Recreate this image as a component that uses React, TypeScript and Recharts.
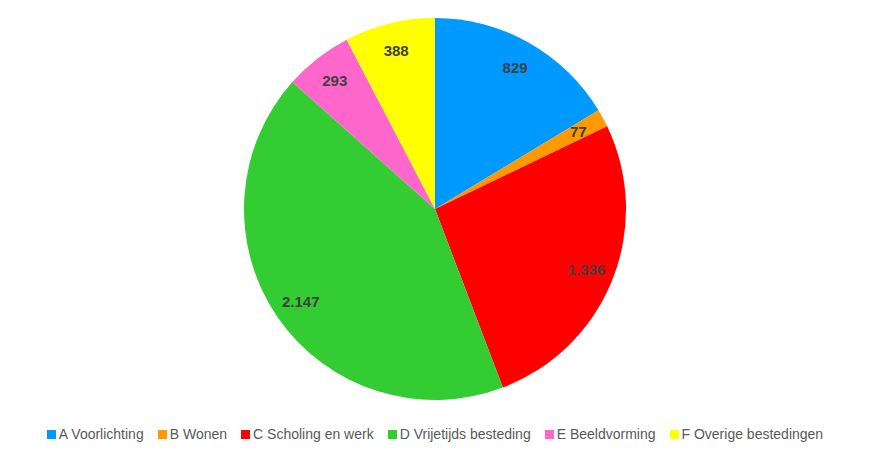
import { PieChart, Pie, Cell, Legend } from "recharts";

const categories = [
  "A Voorlichting",
  "B Wonen",
  "C Scholing en werk",
  "D Vrijetijds besteding",
  "E Beeldvorming",
  "F Overige bestedingen",
];
const amounts = [829, 77, 1336, 2147, 293, 388];
const colors = ["#0099FF", "#FF9900", "#FF0000", "#33CC33", "#FF66CC", "#FFFF00"];

const data = categories.map((name, i) => ({ name, value: amounts[i] }));

const RAD = Math.PI / 180;
const fmt = (v: number) => v.toLocaleString("nl-NL");

// label sits near the outer edge, like Excel's "inside end"
function SliceLabel(props: any) {
  const { cx, cy, midAngle, outerRadius, value } = props;
  const r = outerRadius - 28;
  const x = cx + r * Math.cos(-midAngle * RAD);
  const y = cy + r * Math.sin(-midAngle * RAD);
  return (
    <text
      x={x}
      y={y}
      textAnchor="middle"
      dominantBaseline="central"
      fill="#404040"
      fontSize={15}
      fontWeight="bold"
    >
      {fmt(value)}
    </text>
  );
}

function LegendBox() {
  return (
    <div
      style={{
        display: "flex",
        justifyContent: "center",
        gap: 14,
        fontSize: 14,
        color: "#595959",
      }}
    >
      {categories.map((c, i) => (
        <span key={c} style={{ display: "inline-flex", alignItems: "center" }}>
          <span
            style={{
              width: 9,
              height: 9,
              background: colors[i],
              marginRight: 3,
              display: "inline-block",
            }}
          />
          {c}
        </span>
      ))}
    </div>
  );
}

export default function App() {
  return (
    <div
      style={{
        position: "absolute",
        left: 0,
        top: 0,
        width: 870,
        height: 461,
        background: "#fff",
        fontFamily: "'Liberation Sans', Arial, sans-serif",
      }}
    >
      <PieChart width={870} height={461} margin={{ top: 0, right: 0, bottom: 0, left: 0 }}>
        <Pie
          data={data}
          dataKey="value"
          nameKey="name"
          cx={435}
          cy={209}
          outerRadius={191}
          startAngle={90}
          endAngle={-270}
          stroke="none"
          label={SliceLabel}
          labelLine={false}
          isAnimationActive={false}
        >
          {data.map((d, i) => (
            <Cell key={d.name} fill={colors[i]} />
          ))}
        </Pie>
        <Legend
          content={() => <LegendBox />}
          wrapperStyle={{ position: "absolute", top: 426, left: 0, width: 870 }}
        />
      </PieChart>
    </div>
  );
}
